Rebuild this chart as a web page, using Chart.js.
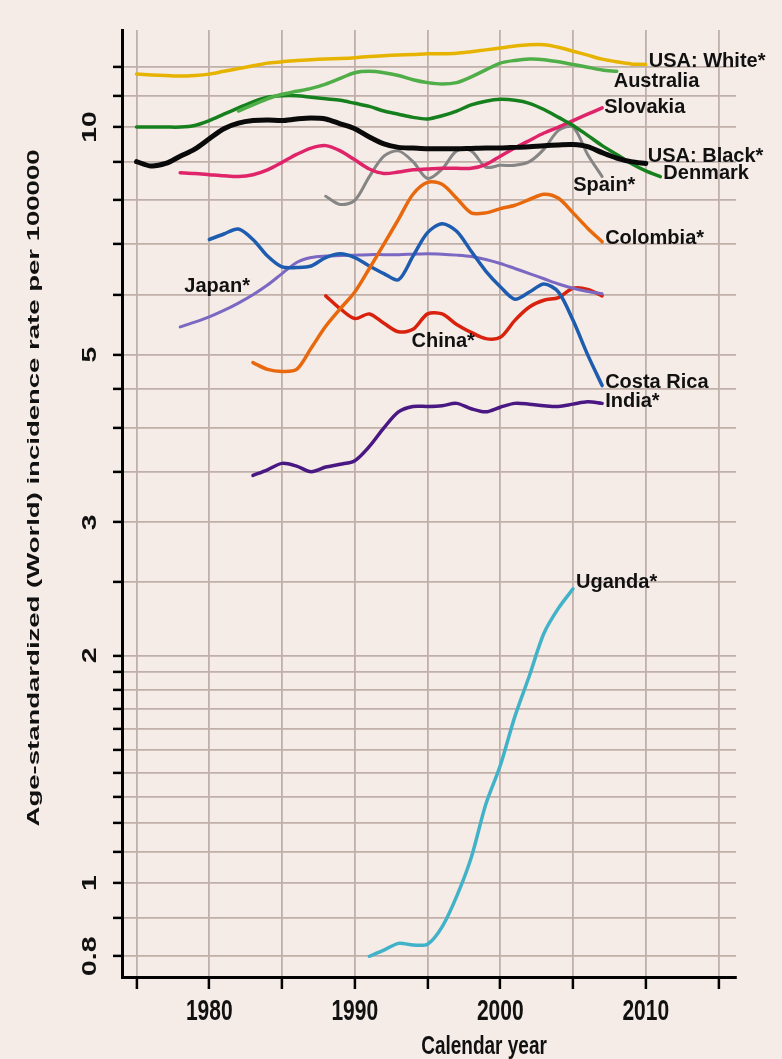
<!DOCTYPE html>
<html>
<head>
<meta charset="utf-8">
<script src="https://cdn.jsdelivr.net/npm/chart.js@4/dist/chart.umd.min.js"></script>
<style>
  html, body { margin: 0; padding: 0; background: #f5ece7; }
  #wrap { width: 782px; height: 1059px; }
</style>
</head>
<body>
<div id="wrap"><canvas id="grafik" width="782" height="1059"></canvas></div>
<script>
/* =========================================================
   DATA: age-standardized incidence per 100000, by year
========================================================= */
const usaWhiteStart = 1975;
const usaWhite = [11.75, 11.72, 11.7, 11.68, 11.7, 11.75, 11.85, 11.95, 12.05, 12.15, 12.2, 12.25, 12.28, 12.3, 12.32, 12.35, 12.4, 12.43, 12.45, 12.47, 12.5, 12.5, 12.52, 12.58, 12.65, 12.72, 12.8, 12.85, 12.85, 12.75, 12.6, 12.45, 12.3, 12.2, 12.12, 12.1];

const australiaStart = 1982;
const australia = [10.5, 10.7, 10.9, 11.05, 11.15, 11.25, 11.4, 11.6, 11.8, 11.85, 11.8, 11.7, 11.55, 11.45, 11.4, 11.45, 11.65, 11.9, 12.15, 12.25, 12.3, 12.28, 12.2, 12.1, 12.0, 11.9, 11.85];

const denmarkStart = 1975;
const denmark = [10.0, 10.0, 10.0, 10.0, 10.05, 10.2, 10.4, 10.6, 10.8, 10.95, 11.0, 11.0, 10.95, 10.9, 10.85, 10.75, 10.65, 10.5, 10.4, 10.3, 10.25, 10.35, 10.5, 10.7, 10.82, 10.88, 10.85, 10.75, 10.55, 10.3, 10.05, 9.75, 9.45, 9.2, 8.95, 8.75, 8.6];

const usaBlackStart = 1975;
const usaBlack = [9.0, 8.88, 8.95, 9.15, 9.35, 9.65, 9.95, 10.12, 10.2, 10.22, 10.2, 10.25, 10.28, 10.25, 10.1, 9.95, 9.7, 9.5, 9.4, 9.38, 9.36, 9.36, 9.36, 9.37, 9.38, 9.38, 9.4, 9.42, 9.45, 9.47, 9.48, 9.42, 9.25, 9.1, 9.0, 8.95];

const slovakiaStart = 1978;
const slovakia = [8.7, 8.68, 8.65, 8.62, 8.6, 8.65, 8.78, 8.98, 9.2, 9.38, 9.45, 9.3, 9.05, 8.8, 8.68, 8.72, 8.78, 8.8, 8.82, 8.82, 8.82, 8.92, 9.15, 9.38, 9.6, 9.82, 10.0, 10.2, 10.4, 10.6];

const spainStart = 1988;
const spain = [8.1, 7.9, 8.0, 8.6, 9.15, 9.3, 9.0, 8.55, 8.8, 9.3, 9.3, 8.85, 8.9, 8.9, 9.0, 9.35, 9.9, 10.0, 9.2, 8.6];

const colombiaStart = 1983;
const colombia = [4.88, 4.78, 4.75, 4.78, 5.1, 5.45, 5.75, 6.05, 6.5, 7.0, 7.55, 8.15, 8.45, 8.4, 8.05, 7.7, 7.7, 7.8, 7.88, 8.02, 8.15, 8.05, 7.7, 7.35, 7.05];

const costaRicaStart = 1980;
const costaRica = [7.1, 7.22, 7.33, 7.1, 6.75, 6.53, 6.52, 6.55, 6.72, 6.8, 6.72, 6.55, 6.4, 6.28, 6.75, 7.25, 7.45, 7.28, 6.85, 6.45, 6.15, 5.92, 6.05, 6.2, 6.05, 5.55, 5.0, 4.55];

const japanStart = 1978;
const japan = [5.44, 5.52, 5.61, 5.72, 5.85, 6.0, 6.18, 6.4, 6.62, 6.72, 6.75, 6.76, 6.77, 6.78, 6.78, 6.78, 6.79, 6.8, 6.79, 6.77, 6.74, 6.68, 6.6, 6.5, 6.4, 6.3, 6.2, 6.12, 6.06, 6.02];

const chinaStart = 1988;
const china = [5.98, 5.75, 5.58, 5.66, 5.5, 5.36, 5.4, 5.66, 5.66, 5.48, 5.35, 5.25, 5.27, 5.55, 5.78, 5.9, 5.95, 6.12, 6.1, 5.98];

const indiaStart = 1983;
const india = [3.46, 3.52, 3.59, 3.56, 3.5, 3.55, 3.58, 3.62, 3.78, 4.0, 4.2, 4.27, 4.27, 4.28, 4.31, 4.24, 4.2, 4.26, 4.31, 4.3, 4.28, 4.27, 4.3, 4.33, 4.31];

const ugandaStart = 1991;
const uganda = [0.8, 0.815, 0.832, 0.828, 0.83, 0.875, 0.96, 1.08, 1.27, 1.43, 1.66, 1.88, 2.14, 2.31, 2.45];

/* =========================================================
   AXES
========================================================= */
const xTicks = [1975, 1980, 1985, 1990, 1995, 2000, 2005, 2010, 2015];
const xLabels = [1980, 1990, 2000, 2010];
const yTicks = [0.8, 0.9, 1, 1.1, 1.2, 1.3, 1.4, 1.5, 1.6, 1.7, 1.8, 1.9, 2, 2.5, 3, 3.5, 4, 4.5, 5, 6, 7, 8, 9, 10, 11, 12];
const yLabels = [0.8, 1, 2, 3, 5, 10];
const xTitle = "Calendar year";
const yTitle = "Age-standardized (World) incidence rate per 100000";

/* =========================================================
   SERIES STYLE + LABEL PLACEMENT
========================================================= */
// at: year the label hangs off (null = last point)
const series = [
  { name: "USA: White*", start: usaWhiteStart, values: usaWhite,  color: "#e6b400", width: 3.5, at: null, dx: 3,   dy: -3 },
  { name: "USA: Black*", start: usaBlackStart, values: usaBlack,  color: "#0a0a0a", width: 5,   at: null, dx: 2,   dy: -7 },
  { name: "Australia",   start: australiaStart, values: australia, color: "#4fae48", width: 3.5, at: null, dx: -3, dy: 10 },
  { name: "Denmark",     start: denmarkStart, values: denmark,    color: "#16801e", width: 3.5, at: null, dx: 3,   dy: -3 },
  { name: "Slovakia",    start: slovakiaStart, values: slovakia,  color: "#e0246a", width: 3.5, at: null, dx: 2,   dy: 0 },
  { name: "Spain*",      start: spainStart, values: spain,        color: "#858585", width: 3,   at: null, dx: -29, dy: 9 },
  { name: "Colombia*",   start: colombiaStart, values: colombia,  color: "#e8680e", width: 3.5, at: null, dx: 3,   dy: -3 },
  { name: "Costa Rica",  start: costaRicaStart, values: costaRica, color: "#1e5cb0", width: 3.5, at: null, dx: 3,  dy: -3 },
  { name: "Japan*",      start: japanStart, values: japan,        color: "#7a68c2", width: 3,   at: 1983, dx: -3,  dy: -8, align: "right" },
  { name: "China*",      start: chinaStart, values: china,        color: "#d8220e", width: 3.5, at: 1995, dx: -16, dy: 28 },
  { name: "India*",      start: indiaStart, values: india,        color: "#4a1882", width: 3.5, at: null, dx: 3,   dy: -2 },
  { name: "Uganda*",     start: ugandaStart, values: uganda,      color: "#42b2c8", width: 3.5, at: null, dx: 3,   dy: -6 }
];

const BG = "#f5ece7";
const GRID = "#bfb0a9";
const FONT = '"Liberation Sans", Arial, Helvetica, sans-serif';

/* =========================================================
   PLUGINS
========================================================= */
const paintBg = {
  id: "paintBg",
  beforeDraw(chart) {
    const c = chart.ctx;
    c.save();
    c.fillStyle = BG;
    c.fillRect(0, 0, chart.width, chart.height);
    c.restore();
  }
};

const endLabels = {
  id: "endLabels",
  afterDatasetsDraw(chart) {
    const c = chart.ctx;
    c.save();
    c.font = "bold 20px " + FONT;
    c.fillStyle = "#111";
    c.textBaseline = "middle";
    chart.data.datasets.forEach((ds, i) => {
      const s = series[i];
      const meta = chart.getDatasetMeta(i);
      const idx = s.at == null ? ds.data.length - 1 : ds.data.findIndex(p => p.x === s.at);
      const pt = meta.data[idx];
      c.textAlign = s.align || "left";
      c.fillText(ds.label, pt.x + s.dx, pt.y + s.dy);
    });
    c.restore();
  }
};

const axisText = {
  id: "axisText",
  afterDraw(chart) {
    const c = chart.ctx;
    const { x, y } = chart.scales;
    c.save();
    c.fillStyle = "#111";
    c.textAlign = "center";
    c.textBaseline = "middle";

    // y tick labels, rotated and stretched like the Stata export
    c.font = "bold 21px " + FONT;
    yLabels.forEach(v => {
      c.save();
      c.translate(90, y.getPixelForValue(v));
      c.rotate(-Math.PI / 2);
      c.scale(1.35, 1);
      c.fillText(String(v), 0, 0);
      c.restore();
    });

    xLabels.forEach(v => {
      c.save();
      c.translate(x.getPixelForValue(v), 1012);
      c.scale(1, 1.4);
      c.fillText(String(v), 0, 0);
      c.restore();
    });

    // axis titles
    c.font = "bold 19px " + FONT;
    c.save();
    c.translate(484, 1047);
    c.scale(1, 1.4);
    c.fillText(xTitle, 0, 0);
    c.restore();

    c.font = "bold 16px " + FONT;
    c.save();
    c.translate(35, 488);
    c.rotate(-Math.PI / 2);
    c.scale(1.72, 1);
    c.fillText(yTitle, 0, 0);
    c.restore();

    c.restore();
  }
};

/* =========================================================
   CHART
========================================================= */
const datasets = series.map(s => ({
  label: s.name,
  data: s.values.map((v, i) => ({ x: s.start + i, y: v })),
  borderColor: s.color,
  borderWidth: s.width,
  pointRadius: 0,
  tension: 0.3,
  borderCapStyle: "round",
  borderJoinStyle: "round",
  fill: false
}));

new Chart(document.getElementById("grafik"), {
  type: "line",
  data: { datasets },
  options: {
    responsive: false,
    animation: false,
    devicePixelRatio: 1,
    layout: { padding: { top: 30, right: 46, left: 0, bottom: 0 } },
    plugins: { legend: { display: false }, tooltip: { enabled: false } },
    scales: {
      x: {
        type: "linear",
        min: 1974,
        max: 2016.2,
        afterBuildTicks: s => { s.ticks = xTicks.map(v => ({ value: v })); },
        afterFit: s => { s.height = 82; },
        ticks: { display: false },
        grid: { color: GRID, lineWidth: 1.8, tickColor: "#000", tickWidth: 2.5, tickLength: 12 },
        border: { display: true, color: "#000", width: 3 }
      },
      y: {
        type: "logarithmic",
        min: 0.751,
        max: 13.44,
        afterBuildTicks: s => { s.ticks = yTicks.map(v => ({ value: v })); },
        afterFit: s => { s.width = 122; },
        ticks: { display: false },
        grid: { color: GRID, lineWidth: 1.8, tickColor: "#000", tickWidth: 2.5, tickLength: 9 },
        border: { display: true, color: "#000", width: 3 }
      }
    }
  },
  plugins: [paintBg, endLabels, axisText]
});
</script>
</body>
</html>
